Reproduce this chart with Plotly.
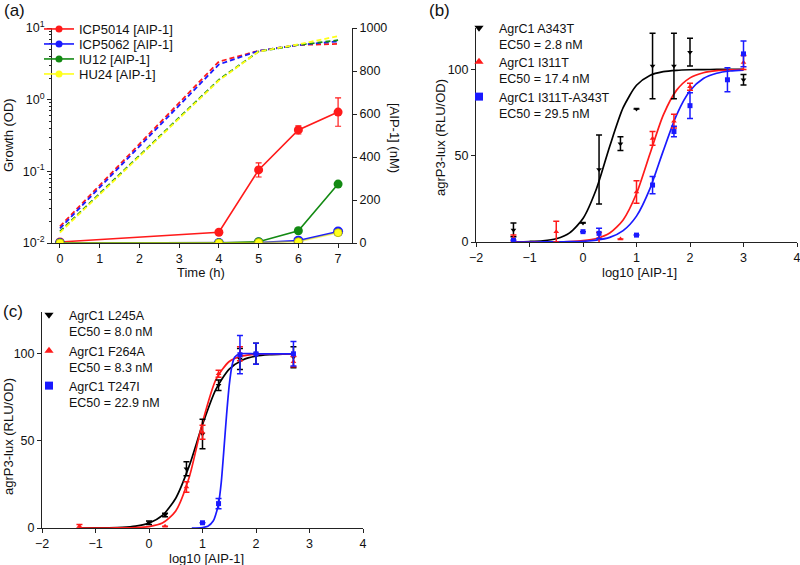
import plotly.graph_objects as go

FONT = "Liberation Sans, Arial, sans-serif"
W, H = 800, 565

# ---------------- Panel (a) data ----------------
time_h = [0, 4, 5, 6, 7]
od_icp5014 = [0.017, 3.4, 4.8, 5.8, 6.0]
od_icp5062 = [0.016, 3.1, 4.8, 5.8, 6.5]
od_iu12 = [0.0145, 1.9, 4.7, 5.8, 6.75]
od_hu24 = [0.014, 1.85, 4.7, 5.9, 7.7]

aip_icp5014 = [5, 50, 340, 526, 609]
aip_icp5014_err = [0, 0, 33, 19, 66]
aip_icp5062 = [0, 0, 2, 11, 53]
aip_iu12 = [0, 0, 6, 57, 274]
aip_hu24 = [0, 0, 2, 6, 48]

# ---------------- Panel (b) data ----------------
b_a343t_x = [-1.3, 0, 0.3, 0.7, 1.0, 1.3, 1.7, 2.0, 3.0]
b_a343t_y = [7, 11, 42, 57, 77, 102, 102, 110, 94]
b_a343t_err = [4, 0, 20, 4, 0, 19, 19, 8, 3]

b_i311t_x = [-1.3, -0.5, 0.3, 0.7, 1.0, 1.3, 1.7, 2.0, 3.0]
b_i311t_y = [2, 6, 2.5, 1.7, 29, 60, 70, 90, 104]
b_i311t_err = [2, 6, 3, 0, 6.5, 4, 4, 2, 4]

b_dbl_x = [-1.3, 0, 0.3, 1.0, 1.3, 1.7, 2.0, 2.7, 3.0]
b_dbl_y = [1, 6, 5, 4, 33, 64, 79, 94, 109]
b_dbl_err = [0, 0, 3, 0, 5, 3, 7.5, 7, 7.5]

# fitted curves
b_fit_x = [-1.3, -1, -0.75, -0.5, -0.25, 0, 0.25, 0.5, 0.75, 1, 1.25, 1.5, 1.75, 2, 2.25, 2.5, 2.75, 3]
b_fit_a343t = [0.1, 0.3, 0.7, 1.9, 5.3, 13.6, 30.7, 55.5, 77.8, 90.8, 96.5, 98.7, 99.5, 99.8, 99.9, 100, 100, 100]
b_fit_i311t = [0, 0, 0.05, 0.1, 0.3, 0.8, 2.0, 5.2, 12.8, 28.1, 51.0, 73.5, 88.0, 95.1, 98.1, 99.3, 99.7, 99.9]
b_fit_dbl = [0, 0, 0.03, 0.07, 0.2, 0.4, 1.1, 2.7, 6.6, 15.0, 30.8, 52.8, 73.7, 87.6, 94.7, 97.8, 99.1, 99.6]

# ---------------- Panel (c) data ----------------
c_l245a_x = [0, 0.3, 0.7, 1.0, 1.3, 1.7, 2.0, 2.7]
c_l245a_y = [3, 7.5, 34, 54, 82, 97, 100, 98]
c_l245a_err = [1, 1, 4, 8.5, 3, 6, 6, 6]

c_f264a_x = [-1.3, 0.3, 0.7, 1.0, 1.3, 1.7, 2.7]
c_f264a_y = [1, 1, 23.5, 55, 88.5, 100, 95.5]
c_f264a_err = [1, 0, 3, 4, 2, 4, 3]

c_t247i_x = [1.0, 1.3, 1.7, 2.0, 2.7]
c_t247i_y = [3, 14, 99.5, 100, 100]
c_t247i_err = [0, 3, 11, 6, 7]

c_fit_x = [-1.3, -1, -0.75, -0.5, -0.25, 0, 0.25, 0.5, 0.75, 1, 1.25, 1.5, 1.75, 2, 2.25, 2.5, 2.7]
c_fit_l245a = [0, 0.06, 0.15, 0.4, 1.1, 2.8, 7.2, 17.1, 35.5, 59.4, 79.6, 91.2, 96.5, 98.7, 99.5, 99.8, 99.9]
c_fit_f264a = [0, 0, 0, 0.05, 0.2, 0.8, 2.8, 9.8, 29.0, 60.6, 85.2, 95.6, 98.8, 99.7, 99.9, 100, 100]
c_fit_t247i_x = [0.8, 1.0, 1.1, 1.2, 1.25, 1.3, 1.35, 1.4, 1.45, 1.5, 1.55, 1.6, 1.7, 2.0, 2.7]
c_fit_t247i = [0, 0.3, 1, 4, 8, 14, 26, 45, 65, 82, 93, 98, 100, 100, 100]

RED = "#ff1a1a"
BLUE = "#1a1aff"
GREEN = "#138a13"
YELLOW = "#ffff1a"
BLACK = "#000000"


def px_x(p):
    return p / W


def px_y(p):
    return 1 - p / H


fig = go.Figure()

# ---- (a) dashed growth curves ----
for ys, col in [(od_icp5014, RED), (od_icp5062, BLUE), (od_iu12, GREEN), (od_hu24, YELLOW)]:
    fig.add_trace(go.Scatter(x=time_h, y=ys, mode="lines", xaxis="x", yaxis="y",
                             line=dict(color=col, width=1.8, dash="5px,3px"),
                             showlegend=False, hoverinfo="skip"))

# ---- (a) AIP-1 concentration ----
fig.add_trace(go.Scatter(x=time_h, y=aip_icp5014, mode="lines+markers", xaxis="x", yaxis="y2",
                         line=dict(color=RED, width=1.6),
                         marker=dict(color=RED, size=9),
                         error_y=dict(type="data", array=aip_icp5014_err, color=RED, thickness=1.2, width=3),
                         showlegend=False))
fig.add_trace(go.Scatter(x=time_h, y=aip_icp5062, mode="lines+markers", xaxis="x", yaxis="y2",
                         line=dict(color=BLUE, width=1.6),
                         marker=dict(color=BLUE, size=10),
                         showlegend=False))
fig.add_trace(go.Scatter(x=time_h, y=aip_iu12, mode="lines+markers", xaxis="x", yaxis="y2",
                         line=dict(color=GREEN, width=1.6),
                         marker=dict(color=GREEN, size=9),
                         showlegend=False))
fig.add_trace(go.Scatter(x=time_h, y=aip_hu24, mode="lines+markers", xaxis="x", yaxis="y2",
                         line=dict(color="rgba(240,240,0,0.55)", width=1.6),
                         marker=dict(color=YELLOW, size=8, line=dict(color="#b8b800", width=0.8)),
                         showlegend=False))

LEG_COMMON = dict(xanchor="left", yanchor="middle", bgcolor="rgba(0,0,0,0)",
                  itemclick=False, itemdoubleclick=False)
legends = {}

# legend entries (a): one legend per entry for exact placement
a_entries = [("ICP5014 [AIP-1]", RED, 29), ("ICP5062 [AIP-1]", BLUE, 44),
             ("IU12 [AIP-1]", GREEN, 59), ("HU24 [AIP-1]", YELLOW, 74)]
lid = 1
for name, col, ypx in a_entries:
    key = "legend" if lid == 1 else f"legend{lid}"
    legends[key] = dict(LEG_COMMON, x=px_x(39), y=px_y(ypx),
                        font=dict(family=FONT, size=13, color="#111"))
    fig.add_trace(go.Scatter(x=[None], y=[None], mode="lines+markers", xaxis="x", yaxis="y2",
                             name=name, legend=key,
                             line=dict(color=col, width=1.6), marker=dict(color=col, size=7)))
    lid += 1

# ---- (b) ----
for fy, col in [(b_fit_a343t, BLACK), (b_fit_i311t, RED), (b_fit_dbl, BLUE)]:
    fig.add_trace(go.Scatter(x=b_fit_x, y=fy, mode="lines", xaxis="x2", yaxis="y3",
                             line=dict(color=col, width=1.7, shape="spline", smoothing=0.7),
                             showlegend=False, hoverinfo="skip"))
for xs, ys, es, col, sym in [(b_a343t_x, b_a343t_y, b_a343t_err, BLACK, "triangle-down"),
                             (b_i311t_x, b_i311t_y, b_i311t_err, RED, "triangle-up"),
                             (b_dbl_x, b_dbl_y, b_dbl_err, BLUE, "square")]:
    fig.add_trace(go.Scatter(x=xs, y=ys, mode="markers", xaxis="x2", yaxis="y3",
                             marker=dict(color=col, size=5, symbol=sym),
                             error_y=dict(type="data", array=es, color=col, thickness=1.5, width=3),
                             showlegend=False))
b_entries = [("AgrC1 A343T<br>EC50 = 2.8 nM", BLACK, "triangle-down", 36),
             ("AgrC1 I311T<br>EC50 = 17.4 nM", RED, "triangle-up", 70),
             ("AgrC1 I311T-A343T<br>EC50 = 29.5 nM", BLUE, "square", 105)]
for name, col, sym, ypx in b_entries:
    key = f"legend{lid}"
    legends[key] = dict(LEG_COMMON, x=px_x(459), y=px_y(ypx), valign="top",
                        font=dict(family=FONT, size=12.5, color="#111"))
    fig.add_trace(go.Scatter(x=[None], y=[None], mode="markers", xaxis="x2", yaxis="y3",
                             name=name, legend=key,
                             marker=dict(color=col, size=8, symbol=sym)))
    lid += 1

# ---- (c) ----
for fx, fy, col in [(c_fit_x, c_fit_l245a, BLACK), (c_fit_x, c_fit_f264a, RED),
                    (c_fit_t247i_x, c_fit_t247i, BLUE)]:
    fig.add_trace(go.Scatter(x=fx, y=fy, mode="lines", xaxis="x3", yaxis="y4",
                             line=dict(color=col, width=1.7, shape="spline", smoothing=0.7),
                             showlegend=False, hoverinfo="skip"))
for xs, ys, es, col, sym in [(c_l245a_x, c_l245a_y, c_l245a_err, BLACK, "triangle-down"),
                             (c_f264a_x, c_f264a_y, c_f264a_err, RED, "triangle-up"),
                             (c_t247i_x, c_t247i_y, c_t247i_err, BLUE, "square")]:
    fig.add_trace(go.Scatter(x=xs, y=ys, mode="markers", xaxis="x3", yaxis="y4",
                             marker=dict(color=col, size=5, symbol=sym),
                             error_y=dict(type="data", array=es, color=col, thickness=1.5, width=3),
                             showlegend=False))
c_entries = [("AgrC1 L245A<br>EC50 = 8.0 nM", BLACK, "triangle-down", 323),
             ("AgrC1 F264A<br>EC50 = 8.3 nM", RED, "triangle-up", 359),
             ("AgrC1 T247I<br>EC50 = 22.9 nM", BLUE, "square", 394)]
for name, col, sym, ypx in c_entries:
    key = f"legend{lid}"
    legends[key] = dict(LEG_COMMON, x=px_x(29), y=px_y(ypx), valign="top",
                        font=dict(family=FONT, size=12.5, color="#111"))
    fig.add_trace(go.Scatter(x=[None], y=[None], mode="markers", xaxis="x3", yaxis="y4",
                             name=name, legend=key,
                             marker=dict(color=col, size=8, symbol=sym)))
    lid += 1

AX = dict(showline=True, linecolor="#222", linewidth=1, ticks="outside", ticklen=4,
          tickcolor="#222", showgrid=False, zeroline=False, automargin=False,
          ticklabeloverflow="allow",
          tickfont=dict(family=FONT, size=12.5, color="#111"))

minor_vals = [k * 10 ** e for e in (-2, -1, 0) for k in range(2, 10)]

fig.update_layout(
    width=W, height=H, autosize=False,
    margin=dict(l=0, r=0, t=0, b=0, pad=0, autoexpand=False),
    paper_bgcolor="white", plot_bgcolor="rgba(0,0,0,0)",
    font=dict(family=FONT, size=13, color="#111"),
    xaxis=dict(AX, domain=[px_x(52), px_x(352)], range=[-0.2, 7.35], anchor="y",
               tickvals=[0, 1, 2, 3, 4, 5, 6, 7]),
    yaxis=dict(AX, domain=[px_y(243), px_y(28)], type="log", range=[-2, 1], anchor="x",
               tickvals=[0.01, 0.1, 1, 10],
               ticktext=["10<sup>-2</sup>", "10<sup>-1</sup>", "10<sup>0</sup>", "10<sup>1</sup>"],
               minor=dict(ticks="outside", ticklen=2, tickcolor="#222", tickvals=minor_vals)),
    yaxis2=dict(AX, overlaying="y", side="right", anchor="x", range=[0, 1000],
                tickvals=[0, 200, 400, 600, 800, 1000]),
    xaxis2=dict(AX, domain=[px_x(476), px_x(797)], range=[-2, 4], anchor="y3",
                tickvals=[-2, -1, 0, 1, 2, 3, 4]),
    yaxis3=dict(AX, domain=[px_y(242), px_y(28)], range=[0, 124], anchor="x2",
                tickvals=[0, 50, 100]),
    xaxis3=dict(AX, domain=[px_x(42), px_x(363)], range=[-2, 4], anchor="y4",
                tickvals=[-2, -1, 0, 1, 2, 3, 4]),
    yaxis4=dict(AX, domain=[px_y(528), px_y(312)], range=[0, 124], anchor="x3",
                tickvals=[0, 50, 100]),
    **legends,
)


def ann(text, x, y, size=13, angle=0, xanchor="center"):
    fig.add_annotation(text=text, x=px_x(x), y=px_y(y), xref="paper", yref="paper",
                       xanchor=xanchor, yanchor="middle", showarrow=False, textangle=angle,
                       font=dict(family=FONT, size=size, color="#111"))


ann("(a)", 2, 11, size=17, xanchor="left")
ann("(b)", 427, 11, size=17, xanchor="left")
ann("(c)", 1, 311, size=17, xanchor="left")
ann("Growth (OD)", 8, 135, angle=-90)
ann("[AIP-1] (nM)", 395, 138, angle=90)
ann("Time (h)", 201, 272)
ann("agrP3-lux (RLU/OD)", 440, 138, angle=-90)
ann("log10 [AIP-1]", 639, 272)
ann("agrP3-lux (RLU/OD)", 8, 437, angle=-90)
ann("log10 [AIP-1]", 206, 558)

fig.write_html("out.html", config={"displayModeBar": False},
               post_script="document.body.style.margin='0px';")
